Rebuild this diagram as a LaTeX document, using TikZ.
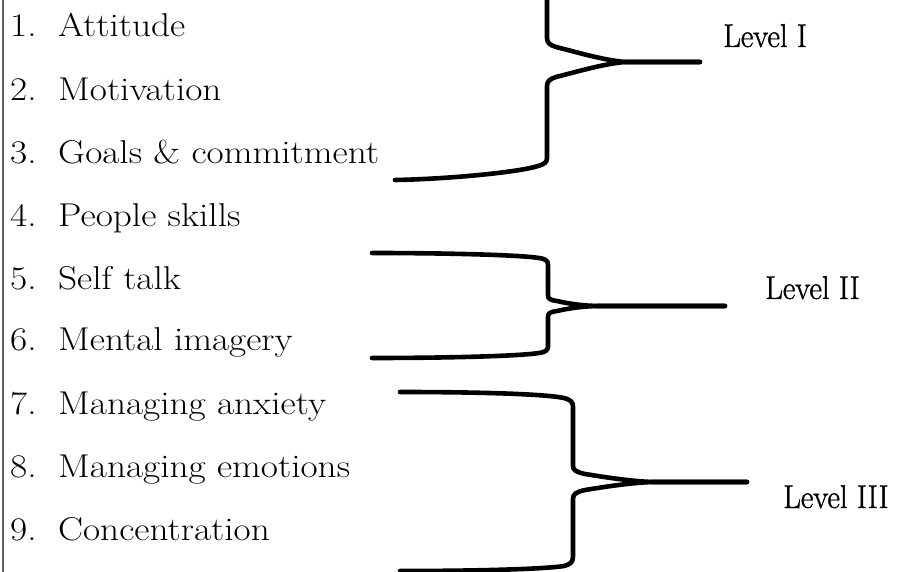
\documentclass[tikz,border=0pt]{standalone}
\usepackage{fontspec}
\setmainfont{Latin Modern Roman}[FakeStretch=1.13]
\newfontfamily\levelfont{Latin Modern Roman}[FakeStretch=0.93,FakeBold=1.2]
\begin{document}
\begin{tikzpicture}[x=1pt,y=-1pt,
  item/.style={anchor=base west,inner sep=0pt,font=\fontsize{33}{38}\selectfont},
  lvl/.style={anchor=base west,inner sep=0pt,font=\levelfont\fontsize{33}{38}\selectfont},
  bracepath/.style={line width=4.6pt,line cap=round,line join=round},
  border/.style={draw=black!62,line width=2pt}]
\clip (0,0) rectangle (914,572);
\useasboundingbox (0,0) rectangle (914,572);
% left border
\coordinate (bt) at (3,-2);
\coordinate (bb) at (3,574);
\draw[border] (bt) -- (bb);
% items
\node[item] (n1) at (10,37)  {\makebox[48pt][l]{1.}Attitude};
\node[item] (n2) at (10,101) {\makebox[48pt][l]{2.}Motivation};
\node[item] (n3) at (10,164) {\makebox[48pt][l]{3.}Goals \& commitment};
\node[item] (n4) at (10,227) {\makebox[48pt][l]{4.}People skills};
\node[item] (n5) at (10,290) {\makebox[48pt][l]{5.}Self talk};
\node[item] (n6) at (10,351) {\makebox[48pt][l]{6.}Mental imagery};
\node[item] (n7) at (10,414) {\makebox[48pt][l]{7.}Managing anxiety};
\node[item] (n8) at (10,477) {\makebox[48pt][l]{8.}Managing emotions};
\node[item] (n9) at (10,540) {\makebox[48pt][l]{9.}Concentration};
% level labels
\node[lvl] (l1) at (723,47)  {Level I};
\node[lvl] (l2) at (765,299) {Level II};
\node[lvl] (l3) at (783,508) {Level III};
% brace I
\draw[bracepath] (395,-56) .. controls (450,-55) and (520,-50) .. (538,-46)
  .. controls (545,-44) and (547,-42) .. (547,-38) -- (547,38)
  .. controls (547,43) and (550,45) .. (556,47)
  .. controls (580,53) and (603,60) .. (625,62) -- (700,62);
\draw[bracepath] (700,62) -- (625,62)
  .. controls (603,64) and (580,71) .. (556,77)
  .. controls (550,79) and (547,81) .. (547,86) -- (547,158)
  .. controls (547,162) and (545,164) .. (538,166)
  .. controls (520,172) and (450,179) .. (395,180);
% brace II
\draw[bracepath] (372,253) .. controls (450,253) and (520,255) .. (539,258)
  .. controls (546,259) and (548,261) .. (548,265) -- (548,295)
  .. controls (548,299) and (550,300) .. (557,301)
  .. controls (570,304) and (585,306) .. (600,306) -- (725,306);
\draw[bracepath] (725,306) -- (600,306)
  .. controls (585,306) and (570,308) .. (557,311)
  .. controls (550,312) and (548,313) .. (548,317) -- (548,346)
  .. controls (548,350) and (546,352) .. (539,353)
  .. controls (520,356) and (450,358) .. (372,358);
% brace III
\draw[bracepath] (400,392) .. controls (480,392) and (545,394) .. (564,398)
  .. controls (571,400) and (573,402) .. (573,407) -- (573,466)
  .. controls (573,470) and (576,472) .. (585,474)
  .. controls (610,478) and (630,481) .. (652,482) -- (747,482);
\draw[bracepath] (747,482) -- (652,482)
  .. controls (630,483) and (610,486) .. (585,490)
  .. controls (576,492) and (573,494) .. (573,499) -- (573,556)
  .. controls (573,562) and (571,564) .. (564,566)
  .. controls (545,569) and (480,571) .. (400,571);
\end{tikzpicture}
\end{document}
